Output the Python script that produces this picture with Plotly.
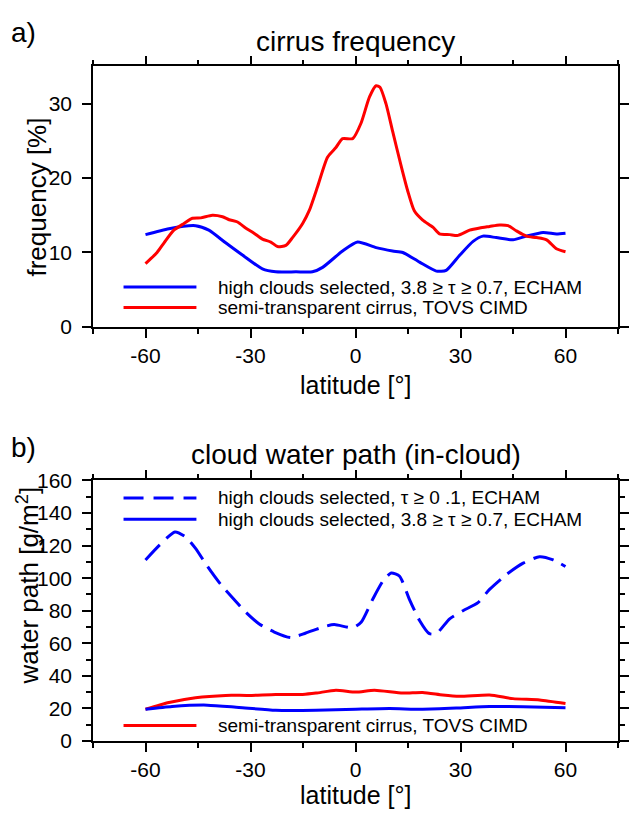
import plotly.graph_objects as go

# ---------------- data ----------------
# panel a: cirrus frequency [%]
lat_a_blue = [-60, -53.3, -45.7, -41.9, -37.1, -32.3, -26.6, -22.8, -17, -12.3, -9.4, -3.7, 0.6, 5.9,
              10.6, 13.5, 18.3, 23.1, 25.9, 29.7, 33.6, 36.4, 40.2, 45, 48.8, 53.6, 57.4, 60]
freq_echam = [12.4, 13.2, 13.6, 13.0, 11.3, 9.65, 7.8, 7.4, 7.4, 7.4, 8.0, 10.2, 11.4, 10.65,
              10.2, 10.0, 8.7, 7.5, 7.6, 9.6, 11.5, 12.2, 12.0, 11.7, 12.2, 12.7, 12.5, 12.6]

lat_a_red = [-60, -56.7, -54.7, -51.9, -49, -46.6, -44.2, -40.9, -38, -36.1, -33.7, -31.4, -29, -26.6,
             -24.2, -22.3, -19.9, -18, -15.1, -13.2, -10.8, -8, -5.6, -3.7, -0.8, 1.6, 4, 5.9, 7,
             8.7, 10.6, 13, 14.9, 16.8, 19.2, 22.1, 24, 26.9, 29.3, 32.6, 35.5, 38.3, 41.2, 43.6,
             46, 48.8, 51.7, 54.6, 57.4, 60]
freq_tovs = [8.5, 10.0, 11.3, 13.0, 13.9, 14.6, 14.65, 15.0, 14.8, 14.4, 14.1, 13.3, 12.6, 11.8,
             11.4, 10.8, 10.95, 12.0, 13.9, 15.65, 18.9, 22.8, 24.1, 25.3, 25.3, 27.4, 30.9, 32.4, 32.2,
             30.0, 26.3, 21.7, 18.3, 15.6, 14.35, 13.4, 12.5, 12.4, 12.3, 13.0, 13.3, 13.5, 13.7, 13.6,
             12.9, 12.2, 12.0, 11.7, 10.5, 10.1]

# panel b: cloud water path [g/m2]
lat_b_dash = [-60, -56, -51.6, -48.5, -45.7, -42.3, -38.5, -35.2, -31.3, -27.5, -23.2, -18.5, -14.2,
              -9.4, -6.1, -0.8, 1.6, 4.9, 7.8, 10.2, 12.6, 15.4, 18.3, 21.1, 23.1, 26.9, 30.7, 35,
              38.3, 43.1, 47.9, 52.6, 56.5, 60]
cwp_echam_all = [111.2, 120.3, 128.4, 125.3, 118.3, 107.2, 96.1, 88.1, 79.0, 71.9, 66.9, 63.5, 66.3,
                 69.9, 71.5, 69.5, 72.9, 87.0, 98.1, 103.2, 101.2, 87.0, 74.0, 65.9, 65.9, 75.0, 80.0, 85.0,
                 93.1, 102.2, 109.2, 113.2, 111.2, 107.2]

lat_b_solid = [-60, -52.4, -42.3, -33.3, -22.8, -11.3, 0.1, 9.7, 19.2, 28.8, 38.3, 47.9, 60]
cwp_echam_sel = [19.5, 21.2, 22.0, 20.6, 18.9, 18.9, 19.5, 19.9, 19.5, 20.2, 21.2, 21.0, 20.4]

lat_b_red = [-60, -53.3, -45.7, -37.1, -30.4, -22.8, -15.1, -11.3, -5.6, 0.1, 5.4, 13.5, 19.2, 24.9,
             29.7, 38.3, 45, 52.6, 60]
cwp_tovs = [19.5, 23.6, 26.6, 28.0, 28.0, 28.6, 28.6, 29.4, 31.2, 30.0, 31.2, 29.4, 29.8, 28.2,
            27.4, 28.2, 26.0, 25.2, 23.0]

x_ticks = [-60, -30, 0, 30, 60]
x_tick_labels = ["-60", "-30", "0", "30", "60"]

lab_sel = "high clouds selected, 3.8 \u2265 \u03c4 \u2265 0.7, ECHAM"
lab_all = "high clouds selected, \u03c4 \u2265 0 .1, ECHAM"
lab_tovs = "semi-transparent cirrus, TOVS CIMD"

# ---------------- style ----------------
BLUE = "#0000ff"
RED = "#ff0000"
FONT = "Liberation Sans, Arial, Helvetica, sans-serif"
W, H = 629, 820
L, R = 93, 3
PW = W - L - R


def py(p):
    return 1 - p / H


def px(p):
    return (p - L) / PW


fig = go.Figure()
common = dict(mode="lines", line_shape="spline", showlegend=False, hoverinfo="skip")
fig.add_trace(go.Scatter(x=lat_a_blue, y=freq_echam, line=dict(color=BLUE, width=3, smoothing=0.6),
                         xaxis="x", yaxis="y", **common))
fig.add_trace(go.Scatter(x=lat_a_red, y=freq_tovs, line=dict(color=RED, width=3, smoothing=0.6),
                         xaxis="x", yaxis="y", **common))
fig.add_trace(go.Scatter(x=lat_b_dash, y=cwp_echam_all,
                         line=dict(color=BLUE, width=3, dash="21px,9px", smoothing=0.6),
                         xaxis="x2", yaxis="y2", **common))
fig.add_trace(go.Scatter(x=lat_b_red, y=cwp_tovs, line=dict(color=RED, width=3, smoothing=0.6),
                         xaxis="x2", yaxis="y2", **common))
fig.add_trace(go.Scatter(x=lat_b_solid, y=cwp_echam_sel, line=dict(color=BLUE, width=3, smoothing=0.6),
                         xaxis="x2", yaxis="y2", **common))

xax = dict(range=[-75, 75], tickvals=x_ticks, ticktext=x_tick_labels, ticks="outside", ticklen=9,
           tickwidth=1.5, tickcolor="black", showline=True, linewidth=1.5, linecolor="black",
           mirror="ticks", showgrid=False, zeroline=False, domain=[0, 1], ticklabelstandoff=0,
           tickfont=dict(family=FONT, size=21, color="black"),
           minor=dict(tickvals=[-75, -45, -15, 15, 45, 75], ticks="outside", ticklen=5,
                      tickwidth=1.5, tickcolor="black", showgrid=False))
yax_common = dict(ticks="outside", ticklen=9, tickwidth=1.5, tickcolor="black", showline=True,
                  linewidth=1.5, linecolor="black", mirror="ticks", showgrid=False, zeroline=False,
                  tickfont=dict(family=FONT, size=21, color="black"), ticklabelstandoff=6)

fig.update_layout(
    width=W, height=H, plot_bgcolor="white", paper_bgcolor="white",
    margin=dict(l=L, r=R, t=0, b=0),
    xaxis=dict(**xax, anchor="y"),
    yaxis=dict(**yax_common, range=[0, 35], tickvals=[0, 10, 20, 30],
               domain=[py(324), py(56)], anchor="x"),
    xaxis2=dict(**xax, anchor="y2"),
    yaxis2=dict(**yax_common, range=[0, 160], tickvals=list(range(0, 161, 20)),
                domain=[py(750), py(482)], anchor="x2",
                minor=dict(tickvals=list(range(10, 160, 20)), ticks="outside", ticklen=5,
                           tickwidth=1.5, tickcolor="black", showgrid=False)),
)

ann = []


def text(t, x, y, size, xanchor="center", angle=0, xref="paper", yref="paper"):
    ann.append(dict(text=t, x=x, y=y, xref=xref, yref=yref, showarrow=False, xanchor=xanchor,
                    yanchor="middle", textangle=angle, font=dict(family=FONT, size=size, color="black")))


text("a)", px(22), py(21), 28)
text("cirrus frequency", 0.5, py(30), 28)
text("b)", px(22), py(448), 28)
text("cloud water path (in-cloud)", 0.5, py(455), 28)
text("latitude [\u00b0]", 0.5, py(384), 25)
text("latitude [\u00b0]", 0.5, py(806), 25)
text("frequency [%]", px(36), py(190), 26, angle=-90)
text("water path [g/m<sup>2</sup>]", px(27), py(590), 26, angle=-90)

shapes = []
LX0, LX1, TX = px(124), px(198), px(217.5)


def legend_entry(label, color, yfrac, xref, yref, dash="solid"):
    shapes.append(dict(type="line", xref=xref, yref=yref, x0=LX0, x1=LX1, y0=yfrac, y1=yfrac,
                       line=dict(color=color, width=3, dash=dash)))
    text(label, TX, yfrac, 19, xanchor="left", xref=xref, yref=yref)


legend_entry(lab_sel, BLUE, (324 - 283) / 268, "x domain", "y domain")
legend_entry(lab_tovs, RED, (324 - 304) / 268, "x domain", "y domain")
legend_entry(lab_all, BLUE, (750 - 500) / 268, "x2 domain", "y2 domain", dash="20px,10px")
legend_entry(lab_sel, BLUE, (750 - 522) / 268, "x2 domain", "y2 domain")
legend_entry(lab_tovs, RED, (750 - 734) / 268, "x2 domain", "y2 domain")

fig.update_layout(annotations=ann, shapes=shapes)
fig.write_html("out.html", config={"displayModeBar": False},
               post_script="document.body.style.margin='0';")
